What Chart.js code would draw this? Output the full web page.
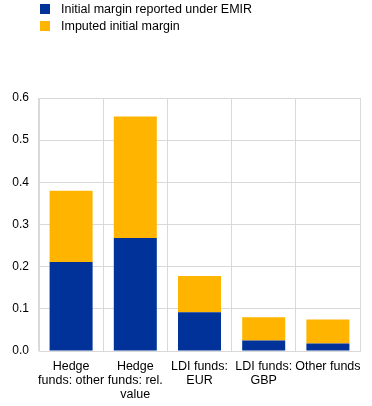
<!DOCTYPE html>
<html>
<head>
<meta charset="utf-8">
<script src="https://cdn.jsdelivr.net/npm/chart.js@4.4.0/dist/chart.umd.min.js"></script>
<style>
  html, body { margin: 0; padding: 0; background: #fff; }
  #wrap { position: relative; width: 372px; height: 406px; }
  #legend { position: absolute; left: 40px; top: 3px; font: 12.5px "Liberation Sans", Arial, sans-serif; color: #000; }
  .item { height: 17px; line-height: 12px; white-space: nowrap; }
  .box { display: inline-block; width: 10px; height: 10px; margin-right: 11px; vertical-align: top; margin-top: 1px; }
</style>
</head>
<body>
<div id="wrap">
  <canvas id="chart" width="372" height="406"></canvas>
  <div id="legend"></div>
</div>
<script>
// categories (multi-line labels)
const categories = [
  ['Hedge', 'funds: other'],
  ['Hedge', 'funds: rel.', 'value'],
  ['LDI funds:', 'EUR'],
  ['LDI funds:', 'GBP'],
  'Other funds'
];

// series values
const reportedEMIR = [0.211, 0.268, 0.092, 0.025, 0.018];
const imputedMargin = [0.169, 0.288, 0.086, 0.055, 0.057];

const seriesNames = ['Initial margin reported under EMIR', 'Imputed initial margin'];
const seriesColors = ['#003299', '#ffb400'];

// legend as plain html
const legendEl = document.getElementById('legend');
seriesNames.forEach((name, i) => {
  legendEl.innerHTML += `<div class="item"><span class="box" style="background:${seriesColors[i]}"></span>${name}</div>`;
});

const gridColor = '#d9d9d9';
const fontFamily = '"Liberation Sans", Arial, sans-serif';

const ctx = document.getElementById('chart').getContext('2d');
const chart = new Chart(ctx, {
  type: 'bar',
  data: {
    labels: categories,
    datasets: [
      { label: seriesNames[0], data: reportedEMIR, backgroundColor: seriesColors[0] },
      { label: seriesNames[1], data: imputedMargin, backgroundColor: seriesColors[1] }
    ]
  },
  options: {
    responsive: false,
    animation: false,
    layout: { padding: { top: 98, right: 12, left: 0, bottom: 0 } },
    datasets: { bar: { barPercentage: 0.67, categoryPercentage: 1 } },
    plugins: { legend: { display: false }, tooltip: { enabled: false } },
    scales: {
      x: {
        stacked: true,
        grid: { color: gridColor, drawTicks: false, offset: true },
        border: { color: gridColor },
        ticks: { color: '#000', font: { family: fontFamily, size: 12.5, lineHeight: 1.15 }, padding: 8, maxRotation: 0, autoSkip: false },
        afterFit: (scale) => { scale.height = 55; }
      },
      y: {
        stacked: true,
        min: 0,
        max: 0.6,
        grid: { color: gridColor, drawTicks: false },
        border: { color: gridColor },
        ticks: {
          color: '#000', font: { family: fontFamily, size: 12 }, padding: 10, stepSize: 0.1,
          callback: (v) => v.toFixed(1)
        },
        afterFit: (scale) => { scale.width = 39; }
      }
    }
  }
});
</script>
</body>
</html>
